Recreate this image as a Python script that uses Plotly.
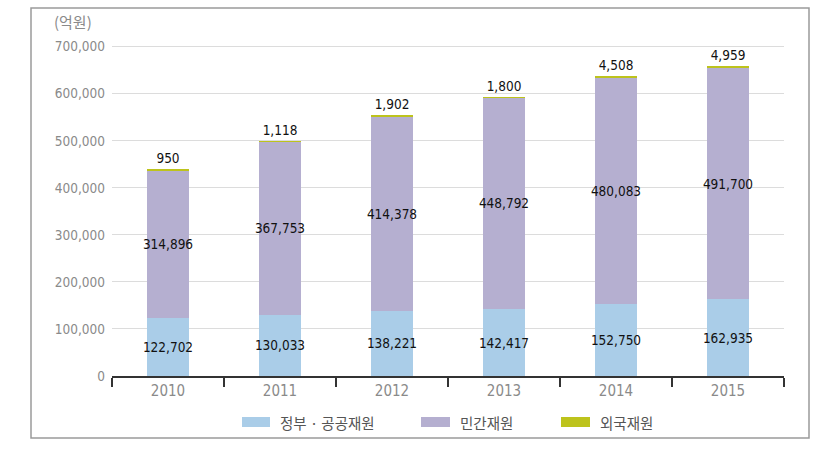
import plotly.graph_objects as go

years = ["2010", "2011", "2012", "2013", "2014", "2015"]
series_names = ["정부 · 공공재원", "민간재원", "외국재원"]
gov = [122702, 130033, 138221, 142417, 152750, 162935]
private = [314896, 367753, 414378, 448792, 480083, 491700]
foreign = [950, 1118, 1902, 1800, 4508, 4959]
colors = ["#aacde8", "#b5afd0", "#bdc31c"]
ytick_vals = [0, 100000, 200000, 300000, 400000, 500000, 600000, 700000]

W, H = 830, 452
L, R, T, B = 112, 46, 42, 76
pw, ph = W - L - R, H - T - B

def px2x(px):
    return (px - L) / pw

def py2y(py):
    return (H - B - py) / ph

NUMFONT = "DejaVu Sans Condensed, Liberation Sans Narrow, Roboto, sans-serif"
label_font = dict(family=NUMFONT, size=13.5, color="#111")

fig = go.Figure()
for name, vals, col, pos in [
    (series_names[0], gov, colors[0], "inside"),
    (series_names[1], private, colors[1], "inside"),
    (series_names[2], foreign, colors[2], "outside"),
]:
    fig.add_trace(go.Bar(
        x=years, y=vals, name=name, marker=dict(color=col, line=dict(width=0)),
        width=0.375,
        text=[f"{v:,}" for v in vals], textposition=pos, textangle=0,
        insidetextanchor="middle", constraintext="none",
        textfont=label_font, cliponaxis=False, showlegend=False,
        hoverinfo="skip",
    ))

fig.update_layout(
    width=W, height=H, barmode="stack",
    margin=dict(l=L, r=R, t=T, b=B),
    plot_bgcolor="white", paper_bgcolor="white",
    font=dict(family=NUMFONT, color="#888"),
    xaxis=dict(
        showline=True, linecolor="#333", linewidth=2,
        ticks="outside", tickson="boundaries", ticklen=9, tickwidth=2, tickcolor="#333",
        tickfont=dict(size=15, color="#8a8a8a"), showgrid=False,
    ),
    yaxis=dict(
        range=[0, 710000], tickvals=ytick_vals,
        ticktext=[f"{v:,}" for v in ytick_vals],
        tickfont=dict(size=13.5, color="#8a8a8a"),
        gridcolor="#dcdcdc", gridwidth=1, zeroline=False, showline=False,
        ticks="", ticklabelstandoff=6,
    ),
)

shapes = [dict(type="rect", xref="paper", yref="paper",
               x0=px2x(31), x1=px2x(809), y0=py2y(438), y1=py2y(8),
               line=dict(color="#9a9a9a", width=1.5), fillcolor="rgba(0,0,0,0)", layer="below")]
annotations = [dict(text="(억원)", xref="paper", yref="paper", x=px2x(52), y=py2y(22),
                    xanchor="left", yanchor="middle", showarrow=False,
                    font=dict(size=15, color="#8a8a8a", family="Noto Sans CJK KR, sans-serif"))]

legend_pos = [(242, 270, 278), (421, 450, 458), (561, 590, 598)]
for (s0, s1, tx), name, col in zip(legend_pos, series_names, colors):
    shapes.append(dict(type="rect", xref="paper", yref="paper",
                       x0=px2x(s0), x1=px2x(s1), y0=py2y(427), y1=py2y(417),
                       fillcolor=col, line=dict(width=0)))
    annotations.append(dict(text=name, xref="paper", yref="paper", x=px2x(tx), y=py2y(422),
                            xanchor="left", yanchor="middle", showarrow=False,
                            font=dict(size=14.5, color="#555", family="Noto Sans CJK KR, sans-serif")))

fig.update_layout(shapes=shapes, annotations=annotations)
fig.write_html("out.html", config={"displayModeBar": False},
               post_script="document.body.style.margin='0';")
